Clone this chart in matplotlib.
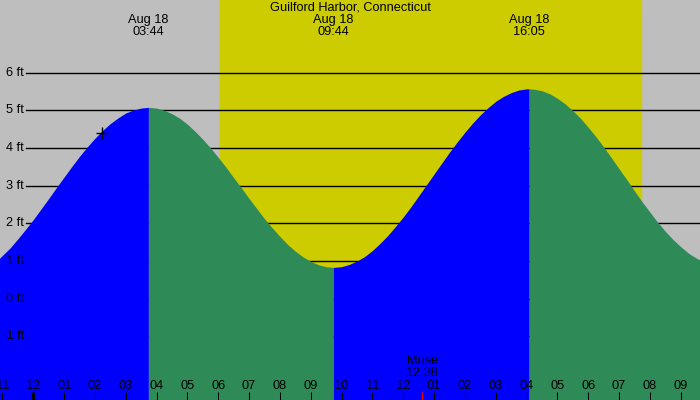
import matplotlib.pyplot as plt
import numpy as np

# tide heights (ft), hours from midnight Aug 18
hours = [-1.1, -1.0, -0.75, -0.5, -0.25, 0.0, 0.25, 0.5, 0.75, 1.0, 1.25, 1.5, 1.75,
         2.0, 2.25, 2.5, 2.75, 3.0, 3.25, 3.5, 3.733,
         4.0, 4.25, 4.5, 4.75, 5.0, 5.25, 5.5, 5.75, 6.0, 6.25, 6.5, 6.75, 7.0, 7.25,
         7.5, 7.75, 8.0, 8.25, 8.5, 8.75, 9.0, 9.25, 9.5, 9.733,
         10.0, 10.25, 10.5, 10.75, 11.0, 11.25, 11.5, 11.75, 12.0, 12.25, 12.5, 12.75,
         13.0, 13.25, 13.5, 13.75, 14.0, 14.25, 14.5, 14.75, 15.0, 15.25, 15.5, 15.75,
         16.0, 16.083,
         16.25, 16.5, 16.75, 17.0, 17.25, 17.5, 17.75, 18.0, 18.25, 18.5, 18.75, 19.0,
         19.25, 19.5, 19.75, 20.0, 20.25, 20.5, 20.75, 21.0, 21.25, 21.5, 21.7]
heights = [1.07, 1.15, 1.35, 1.59, 1.84, 2.10, 2.38, 2.66, 2.95, 3.23, 3.51, 3.78, 4.03,
           4.26, 4.47, 4.65, 4.80, 4.93, 5.01, 5.06, 5.08,
           5.06, 5.00, 4.91, 4.79, 4.63, 4.44, 4.23, 4.00, 3.75, 3.49, 3.21, 2.94, 2.66, 2.39,
           2.12, 1.88, 1.65, 1.44, 1.26, 1.11, 0.99, 0.90, 0.85, 0.83,
           0.85, 0.91, 1.00, 1.12, 1.28, 1.47, 1.68, 1.92, 2.17, 2.44, 2.73, 3.02,
           3.31, 3.60, 3.89, 4.16, 4.42, 4.66, 4.88, 5.07, 5.24, 5.37, 5.47, 5.54,
           5.57, 5.57,
           5.56, 5.52, 5.44, 5.32, 5.17, 4.99, 4.79, 4.55, 4.30, 4.03, 3.74, 3.45,
           3.16, 2.86, 2.57, 2.30, 2.03, 1.79, 1.57, 1.38, 1.21, 1.08, 1.00]

# high / low tide events
event_hours = [3.733, 9.733, 16.083]
event_labels = ["03:44", "09:44", "16:05"]
event_date = "Aug 18"

sunrise, sunset = 6.05, 19.71
moonrise, moonrise_label = 12.62, "12:38"
now_hour, now_height = 2.228, 4.41

ft_levels = [-1, 0, 1, 2, 3, 4, 5, 6]
title = "Guilford Harbor, Connecticut"

x0, x1 = -1.080, 21.625
y0, y1 = -2.689, 7.929
px_y = 37.67   # pixels per foot
px_x = 30.83   # pixels per hour

plt.rcParams['font.family'] = ['Liberation Sans', 'DejaVu Sans']
fs = 9.2

fig = plt.figure(figsize=(7, 4), dpi=100)
ax = fig.add_axes([0, 0, 1, 1])
ax.set_xlim(x0, x1)
ax.set_ylim(y0, y1)
ax.axis('off')

# night / day background
ax.axvspan(x0, x1, color='#BEBEBE', zorder=0)
ax.axvspan(sunrise, sunset, color='#CCCC00', zorder=0.5)

# feet grid lines
for lv in ft_levels:
    ax.axhline(lv, xmin=26 / 700, xmax=1, color='black', lw=1.0, zorder=1)

# tide fill: blue rising, green falling
t = np.array(hours)
h = np.array(heights)
bounds = [t[0]] + event_hours + [t[-1]]
for a, b in zip(bounds[:-1], bounds[1:]):
    m = (t >= a - 1e-9) & (t <= b + 1e-9)
    rising = h[m][-1] > h[m][0]
    ax.fill_between(t[m], y0, h[m], color='#0000FF' if rising else '#2E8B57',
                    lw=0, zorder=2)

# feet labels
for lv in ft_levels:
    ax.text(x0 + 24 / px_x, lv, f"{lv} ft", ha='right', va='center',
            fontsize=fs, zorder=5)

# current time marker
ax.plot(now_hour, now_height, marker='+', color='black', ms=9, mew=1.0, zorder=5)

# event labels along the top
for eh, el in zip(event_hours, event_labels):
    ax.text(eh, y1 - 19.5 / px_y, event_date, ha='center', va='center', fontsize=fs)
    ax.text(eh, y1 - 32 / px_y, el, ha='center', va='center', fontsize=fs)
ax.text((x0 + x1) / 2, y1 - 7.5 / px_y, title, ha='center', va='center', fontsize=fs)

# hour ticks along the bottom
for hr in range(-1, 22):
    lab = f"{(hr % 12) or 12:02d}"
    ax.text(hr, y0 + 14 / px_y, lab, ha='center', va='center', fontsize=fs, zorder=5)
    lw = 3 if hr % 24 == 0 else 1
    ax.plot([hr, hr], [y0, y0 + 8 / px_y], color='black', lw=lw * 0.75,
            solid_capstyle='butt', zorder=5)

# moonrise
ax.plot([moonrise, moonrise], [y0, y0 + 8 / px_y], color='red', lw=0.75,
        solid_capstyle='butt', zorder=5)
ax.text(moonrise, y0 + 38.5 / px_y, "Mrise", ha='center', va='center', fontsize=fs, zorder=5)
ax.text(moonrise, y0 + 27 / px_y, moonrise_label, ha='center', va='center', fontsize=fs, zorder=5)

fig.savefig("out.png", dpi=100)
